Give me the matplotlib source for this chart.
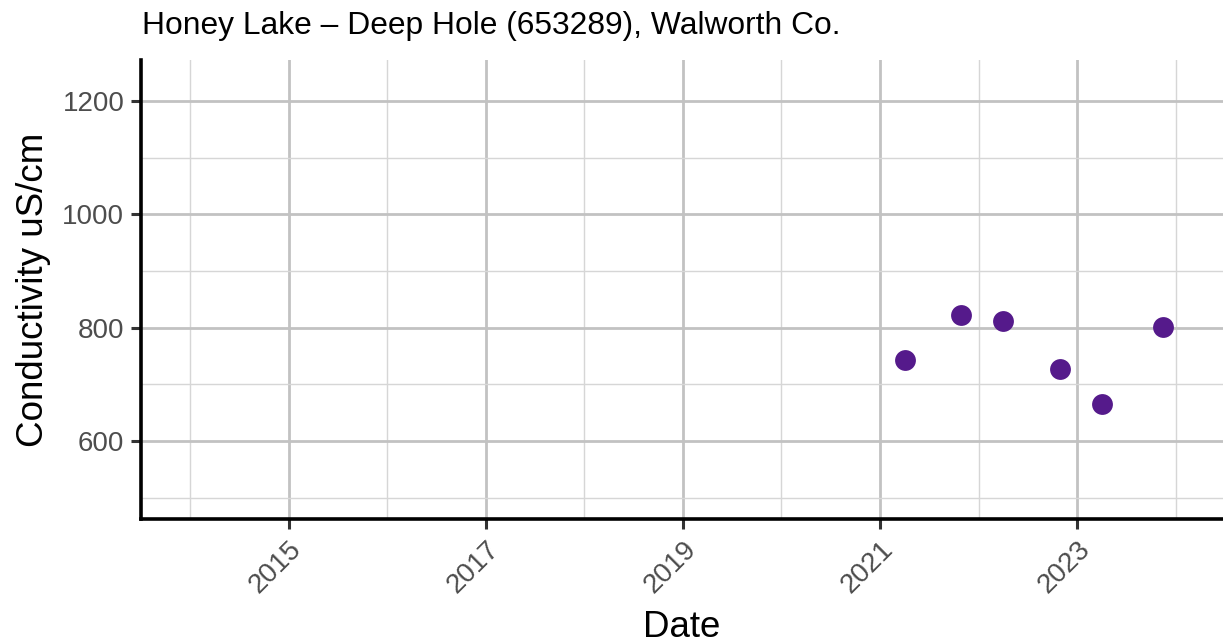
import matplotlib
matplotlib.use("Agg")
import matplotlib.pyplot as plt
import matplotlib.dates as mdates
from datetime import datetime

plt.rcParams['font.family'] = ['Liberation Sans', 'DejaVu Sans']

title = "Honey Lake – Deep Hole (653289), Walworth Co."
dates = ["2021-04-01", "2021-10-29", "2022-04-02", "2022-10-30", "2023-04-04", "2023-11-13"]
conductivity = [743, 823, 812, 727, 666, 802]
y_ticks = [600, 800, 1000, 1200]
y_minor = [500, 700, 900, 1100]
x_tick_years = [2015, 2017, 2019, 2021, 2023]
x_minor_years = [2014, 2016, 2018, 2020, 2022, 2024]

W, H = 1223, 643
fig = plt.figure(figsize=(W/100, H/100), dpi=100)
L, R, T, B = 141, 1223, 60, 519.3
ax = fig.add_axes([L/W, 1-B/H, (R-L)/W, (B-T)/H])

d = [datetime.strptime(s, "%Y-%m-%d") for s in dates]
ax.scatter(d, conductivity, s=225, color="#551A8B", zorder=3, linewidths=0)

ax.set_xlim(mdates.date2num(datetime(2013, 7, 3)), mdates.date2num(datetime(2024, 6, 24)))
ax.set_ylim(462, 1272)

ax.set_yticks(y_ticks)
ax.set_yticks(y_minor, minor=True)
ax.set_xticks([mdates.date2num(datetime(y, 1, 1)) for y in x_tick_years])
ax.set_xticks([mdates.date2num(datetime(y, 1, 1)) for y in x_minor_years], minor=True)
ax.set_xticklabels([str(y) for y in x_tick_years], rotation=45, ha='right', va='top', rotation_mode='anchor')

ax.grid(which='major', color='#C2C2C2', linewidth=2.0, zorder=0)
ax.grid(which='minor', color='#D6D6D6', linewidth=1.0, zorder=0)
ax.set_axisbelow(True)

for s in ['top', 'right']:
    ax.spines[s].set_visible(False)
for s in ['left', 'bottom']:
    ax.spines[s].set_linewidth(2.6)
    ax.spines[s].set_color('black')

ax.tick_params(which='major', length=7, width=2.2, color='#333333', labelsize=20, labelcolor='#4D4D4D', pad=5)
ax.tick_params(which='minor', length=0)

ax.set_xlabel("Date", fontsize=26.5, color='black', labelpad=8.6)
ax.set_ylabel("Conductivity uS/cm", fontsize=26.5, color='black', labelpad=8)
fig.text(142/W, 1-34/H, title, fontsize=22.9, color='black', ha='left', va='baseline')

fig.savefig("out.png", dpi=100)
